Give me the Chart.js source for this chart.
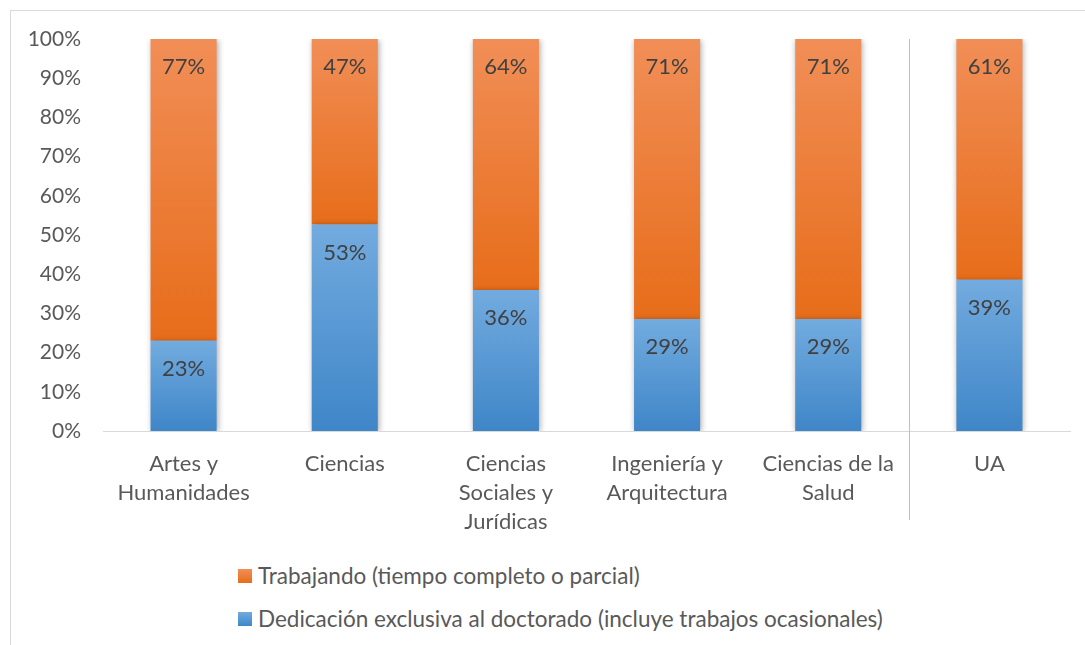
<!DOCTYPE html>
<html>
<head>
<meta charset="utf-8">
<script src="https://cdn.jsdelivr.net/npm/chart.js@4.4.0/dist/chart.umd.min.js"></script>
<style>
  body { margin: 0; background: #fff; font-family: Lato, sans-serif; }
  #frame { position: absolute; left: 10px; top: 10px; width: 1100px; height: 700px;
           border-left: 1px solid #d9d9d9; border-top: 1px solid #d9d9d9; }
  #chart { position: absolute; left: 0; top: 0; }
  #legend { position: absolute; left: 238px; top: 554px; color: #595959; font-size: 22.5px; }
  .item { display: flex; align-items: center; height: 43px; }
  .box { width: 14px; height: 14px; margin-right: 6px; }
</style>
</head>
<body>
<div id="frame"></div>
<canvas id="chart" width="1085" height="540"></canvas>
<div id="legend"></div>
<script>
// ==== DATA ====
const categories = [
  ["Artes y", "Humanidades"],
  ["Ciencias"],
  ["Ciencias", "Sociales y", "Jurídicas"],
  ["Ingeniería y", "Arquitectura"],
  ["Ciencias de la", "Salud"],
  ["UA"],
];
const dedicacion = [23, 52.7, 36, 28.6, 28.6, 38.6];
const trabajando = [77, 47.3, 64, 71.4, 71.4, 61.4];
const seriesNames = [
  "Dedicación exclusiva al doctorado (incluye trabajos ocasionales)",
  "Trabajando (tiempo completo o parcial)",
];
const yTicks = [0, 10, 20, 30, 40, 50, 60, 70, 80, 90, 100];

const BLUE = ["#72abdf", "#3f86c8"];
const ORANGE = ["#f18e57", "#e76d1a"];
const FONT = "Lato";

// gradient for one stacked segment, from its top value to its bottom value
function segGradient(context, colors) {
  const chart = context.chart;
  if (!chart.chartArea || !chart.scales.y) return colors[1];
  const i = context.dataIndex;
  const y = chart.scales.y;
  let top, bottom;
  if (context.datasetIndex === 0) {
    top = dedicacion[i];
    bottom = 0;
  } else {
    top = dedicacion[i] + trabajando[i];
    bottom = dedicacion[i];
  }
  const g = chart.ctx.createLinearGradient(0, y.getPixelForValue(top), 0, y.getPixelForValue(bottom));
  g.addColorStop(0, colors[0]);
  g.addColorStop(1, colors[1]);
  return g;
}

// shadow under bars, value labels, separator before "UA"
const barExtras = {
  id: "barExtras",
  beforeDatasetsDraw(chart) {
    const ctx = chart.ctx;
    ctx.save();
    ctx.shadowColor = "rgba(0,0,0,0.35)";
    ctx.shadowBlur = 6;
    ctx.shadowOffsetX = 1;
    ctx.shadowOffsetY = 1;
  },
  afterDatasetsDraw(chart) {
    const ctx = chart.ctx;
    ctx.restore();
    ctx.save();
    ctx.font = "22px " + FONT;
    ctx.fillStyle = "#404040";
    ctx.textAlign = "center";
    ctx.textBaseline = "middle";
    chart.data.datasets.forEach((ds, di) => {
      chart.getDatasetMeta(di).data.forEach((bar, i) => {
        ctx.fillText(Math.round(ds.data[i]) + "%", bar.x, bar.y + 28);
      });
    });
    ctx.restore();
  },
  afterDraw(chart) {
    const ctx = chart.ctx;
    const x = chart.scales.x;
    const sx = Math.round((x.getPixelForValue(4) + x.getPixelForValue(5)) / 2) + 0.5;
    ctx.save();
    ctx.strokeStyle = "#bfbfbf";
    ctx.lineWidth = 1;
    ctx.beginPath();
    ctx.moveTo(sx, chart.chartArea.top);
    ctx.lineTo(sx, 520);
    ctx.stroke();
    ctx.restore();
  },
};

const chart = new Chart(document.getElementById("chart").getContext("2d"), {
  type: "bar",
  data: {
    labels: categories,
    datasets: [
      {
        label: seriesNames[0],
        data: dedicacion,
        backgroundColor: (c) => segGradient(c, BLUE),
        categoryPercentage: 1,
        barPercentage: 0.41,
      },
      {
        label: seriesNames[1],
        data: trabajando,
        backgroundColor: (c) => segGradient(c, ORANGE),
        categoryPercentage: 1,
        barPercentage: 0.41,
      },
    ],
  },
  options: {
    responsive: false,
    animation: false,
    layout: { padding: { top: 39, right: 15, left: 0, bottom: 0 } },
    plugins: {
      legend: { display: false },
      tooltip: { enabled: false },
    },
    scales: {
      x: {
        stacked: true,
        grid: { display: false },
        border: { display: true, color: "#d9d9d9", width: 1 },
        ticks: {
          color: "#595959",
          font: { family: FONT, size: 22, lineHeight: 1.3 },
          padding: 11,
          maxRotation: 0,
          autoSkip: false,
        },
        afterFit(scale) { scale.height = 109; },
      },
      y: {
        stacked: true,
        min: 0,
        max: 100,
        afterBuildTicks(scale) { scale.ticks = yTicks.map((v) => ({ value: v })); },
        grid: { display: false, drawTicks: false },
        border: { display: false },
        ticks: {
          color: "#595959",
          font: { family: FONT, size: 21 },
          padding: 22,
          callback: (v) => v + "%",
        },
        afterFit(scale) { scale.width = 103; },
      },
    },
  },
  plugins: [barExtras],
});

// ==== Legend (one item per row, orange first) ====
const legend = document.getElementById("legend");
[[seriesNames[1], ORANGE], [seriesNames[0], BLUE]].forEach(([name, colors]) => {
  const row = document.createElement("div");
  row.className = "item";
  row.innerHTML = `<span class="box" style="background:linear-gradient(${colors[0]},${colors[1]})"></span><span>${name}</span>`;
  legend.appendChild(row);
});
</script>
</body>
</html>
